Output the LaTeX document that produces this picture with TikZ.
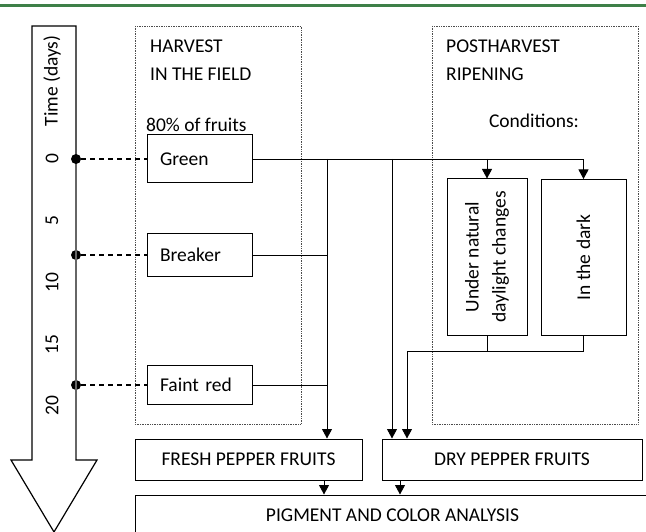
\documentclass[tikz,border=0pt]{standalone}
\usepackage{fontspec}
\setmainfont{Carlito}
\usepackage{tikz}
\usetikzlibrary{arrows.meta,positioning}
\definecolor{rulegreen}{RGB}{62,128,72}

\begin{document}
\begin{tikzpicture}[
    x=1pt,y=-1pt,
    font=\fontsize{19.5}{27}\selectfont,
    box/.style={draw,line width=1pt,minimum width=105pt,inner xsep=13pt,
        text width=79pt,align=left},
    bigbox/.style={draw,line width=1pt,minimum height=41pt,align=center},
    cond/.style={draw,line width=1pt,minimum height=156pt},
    region/.style={draw=black!70,densely dotted,line width=0.7pt},
    label/.style={anchor=west,inner sep=0pt},
    dot/.style={circle,fill=black,inner sep=0pt,minimum size=10pt},
    day/.style={line width=1.3pt,dash pattern=on 5pt off 4pt},
    line/.style={line width=0.9pt},
    arrow/.style={-{Triangle[length=9.5pt,width=10pt]},line width=0.9pt}
]
\useasboundingbox (0,0) rectangle (646,532);
\clip (0,0) rectangle (646,532);
\draw[rulegreen,line width=3pt] (0,6) -- (646,6);

% time axis
\draw[line width=1.2pt,line join=miter] (32,26) -- (76,26) -- (76,460) -- (97,460)
    -- (54,532) -- (11,460) -- (32,460) -- cycle;
\node[rotate=90] (tlabel) at (52,81) {Time (days)};
\foreach \d in {0,5,10,15,20}
    \node[rotate=90] (t\d) at (52,{159+12.35*\d}) {\d};

% the two stages
\draw[region] (135,26) rectangle (301,424);
\draw[region] (432,26) rectangle (638,424);
\node[label] (harvest) at (150,46) {HARVEST};
\node[label] (field) at (150,74) {IN THE FIELD};
\node[label] (share) at (146,125) {80\% of fruits};
\node[label] (post) at (446,46) {POSTHARVEST};
\node[label] (ripen) at (446,74) {RIPENING};
\node (cond) at (534,121) {Conditions:};

\node[box,minimum height=48pt] (green) at (199.5,159) {Green};
\node[box,minimum height=43pt] (breaker) at (199.5,255) {Breaker};
\node[box,minimum height=39pt] (faint) at (199.5,385) {Faint red};

\node[cond,minimum width=80pt] (natural) at (487,257) {};
\node[rotate=90,align=center] (naturaltext) at (natural) {Under natural\\daylight changes};
\node[cond,minimum width=85pt] (dark) at (583.5,257.5) {};
\node[rotate=90] (darktext) at (dark) {In the dark};

\node[bigbox,minimum width=227pt] (fresh) at (248.5,459.5) {FRESH PEPPER FRUITS};
\node[bigbox,minimum width=260pt] (dry) at (512,459.5) {DRY PEPPER FRUITS};
\node[bigbox,minimum width=515pt,minimum height=40pt] (analysis) at (392.5,515)
    {PIGMENT AND COLOR ANALYSIS};

% sampling days
\node[dot] (d0) at (76,159) {};
\node[dot] (d1) at (76,255) {};
\node[dot] (d2) at (76,385) {};
\draw[black!60,line width=1.6pt] (d0) -- (76,459);
\draw[day] (d0) -- (green.west);
\draw[day] (d1) -- (breaker.west);
\draw[day] (d2) -- (faint.west);

% connectors
\coordinate (fj) at (327,159);
\coordinate (dj) at (392,159);
\coordinate (cj) at (407,351);
\draw[arrow] (green.east) -| (dark.north);
\draw[arrow] (green.east -| natural.north) -- (natural.north);
\draw[line] (breaker.east) -- (breaker.east -| fj);
\draw[line] (faint.east) -- (faint.east -| fj);
\draw[arrow] (fj) -- (fj |- fresh.north);
\draw[arrow] (dj) -- (dj |- dry.north);
\draw[line] (dark.south) |- (cj);
\draw[line] (natural.south) -- (natural.south |- cj);
\draw[arrow] (cj) -- (cj |- dry.north);
\draw[arrow] (fresh.south -| 324,0) -- (analysis.north -| 324,0);
\draw[arrow] (dry.south -| 400,0) -- (analysis.north -| 400,0);
\end{tikzpicture}
\end{document}
